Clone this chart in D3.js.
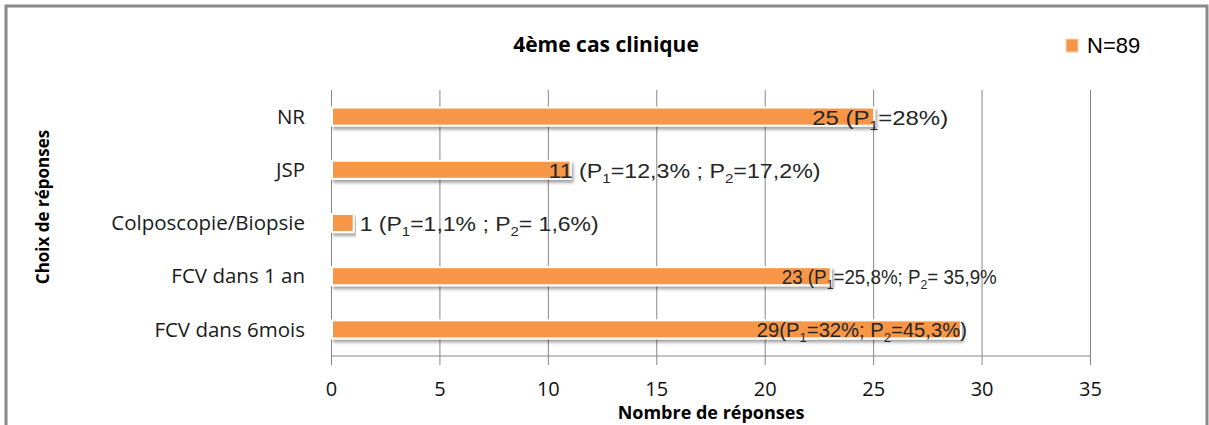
<!DOCTYPE html>
<html>
<head>
<meta charset="utf-8">
<script src="https://cdn.jsdelivr.net/npm/d3@7"></script>
<style>
  body { margin: 0; background: #fff; }
  svg { display: block; }
</style>
</head>
<body>
<div id="chart"></div>
<script>
// chart data
const categories = ["NR", "JSP", "Colposcopie/Biopsie", "FCV dans 1 an", "FCV dans 6mois"]
const counts = [25, 11, 1, 23, 29]
const labelTexts = [
  "25 (P1=28%)",
  "11 (P1=12,3% ; P2=17,2%)",
  "1 (P1=1,1% ; P2= 1,6%)",
  "23 (P1=25,8%; P2= 35,9%",
  "29(P1=32%; P2=45,3%)"
]
const xTicks = [0, 5, 10, 15, 20, 25, 30, 35]
const seriesName = "N=89"
const chartTitle = "4ème cas clinique"

// layout (label nudges, px from bar end, and drawn widths)
const labelShift = [-61, -21, 7, -48, -203]
const labelWidth = [136, 272, 239, 215, 210]

const width = 1209,
  height = 425,
  margin = { top: 90, bottom: 69, left: 331, right: 119 }

const orange = "#F79646"
const calFont = "'Open Sans', Lato, sans-serif"

const svg = d3.select("#chart")
  .append("svg")
  .attr("width", width)
  .attr("height", height)

const defs = svg.append("defs")
const shadow = defs.append("filter")
  .attr("id", "shadow")
  .attr("x", "-5%").attr("y", "-40%")
  .attr("width", "115%").attr("height", "200%")
shadow.append("feDropShadow")
  .attr("dx", 2).attr("dy", 3)
  .attr("stdDeviation", 1.5)
  .attr("flood-color", "#000")
  .attr("flood-opacity", 0.35)

// outer frame
svg.append("rect")
  .attr("x", 6).attr("y", 6)
  .attr("width", width - 8).attr("height", height + 10)
  .attr("fill", "none")
  .attr("stroke", "#8a8a8a")
  .attr("stroke-width", 3)

const xScale = d3.scaleLinear()
  .domain([0, 35])
  .range([margin.left, width - margin.right])

const yScale = d3.scaleBand()
  .domain(categories)
  .range([margin.top, height - margin.bottom])
  .paddingInner(0.66)
  .paddingOuter(0.33)

// gridlines + ticks
const xAxis = d3.axisBottom(xScale)
  .tickValues(xTicks)
  .tickPadding(25)

const xAxisGroup = svg.append("g")
  .attr("class", "xAxis")
  .attr("transform", `translate(0, ${height - margin.bottom})`)
  .call(xAxis)

xAxisGroup.select(".domain").remove()
xAxisGroup.selectAll(".tick line")
  .attr("stroke", "#868686")
  .attr("y2", -(height - margin.top - margin.bottom))
  .attr("y1", 9)
xAxisGroup.selectAll(".tick text")
  .attr("fill", "#111")
  .attr("font-family", calFont)
  .attr("font-size", 20)
  .attr("dy", "0.45em")

// bottom axis line
svg.append("line")
  .attr("x1", xScale(0)).attr("x2", xScale(35))
  .attr("y1", height - margin.bottom).attr("y2", height - margin.bottom)
  .attr("stroke", "#868686")

// category labels
svg.selectAll(".cat")
  .data(categories)
  .join("text")
  .attr("class", "cat")
  .attr("x", margin.left - 26)
  .attr("y", d => yScale(d) + yScale.bandwidth() / 2)
  .attr("dy", "0.35em")
  .attr("text-anchor", "end")
  .attr("font-family", calFont)
  .attr("font-size", 20.5)
  .attr("fill", "#1a1a1a")
  .text(d => d)

// bars
svg.selectAll(".bar")
  .data(counts)
  .join("rect")
  .attr("class", "bar")
  .attr("x", xScale(0) + 1)
  .attr("y", (d, i) => yScale(categories[i]))
  .attr("width", d => xScale(d) - xScale(0))
  .attr("height", yScale.bandwidth())
  .attr("fill", orange)
  .attr("stroke", "#fff")
  .attr("stroke-width", 2)
  .attr("filter", "url(#shadow)")

// value labels, with P1 / P2 subscripts
const labels = svg.selectAll(".val")
  .data(labelTexts)
  .join("text")
  .attr("class", "val")
  .attr("x", (d, i) => xScale(counts[i]) + labelShift[i])
  .attr("y", (d, i) => yScale(categories[i]) + yScale.bandwidth() / 2 + 8)
  .attr("font-family", "'Liberation Sans', Arial, sans-serif")
  .attr("font-size", 20)
  .attr("fill", "#262626")
  .attr("textLength", (d, i) => labelWidth[i])
  .attr("lengthAdjust", "spacingAndGlyphs")

labels.each(function(d) {
  const t = d3.select(this)
  const parts = d.split(/(P[12])/)
  let lowered = false
  parts.forEach(p => {
    if (/^P[12]$/.test(p)) {
      t.append("tspan").attr("dy", lowered ? -5 : 0).text("P")
      t.append("tspan").attr("dy", 5).attr("font-size", 13).text(p[1])
      lowered = true
    } else if (p.length) {
      t.append("tspan").attr("dy", lowered ? -5 : 0).text(p)
      lowered = false
    }
  })
})

// title
svg.append("text")
  .attr("x", 606)
  .attr("y", 52)
  .attr("text-anchor", "middle")
  .attr("font-family", calFont)
  .attr("font-weight", "bold")
  .attr("font-size", 21)
  .attr("fill", "#000")
  .text(chartTitle)

// legend
svg.append("rect")
  .attr("x", 1066).attr("y", 39)
  .attr("width", 12).attr("height", 13)
  .attr("fill", orange)
  .attr("stroke", "#fbd3b2")
  .attr("stroke-width", 1)
svg.append("text")
  .attr("x", 1087).attr("y", 53)
  .attr("font-family", "'Liberation Sans', Arial, sans-serif")
  .attr("font-size", 22)
  .attr("fill", "#000")
  .text(seriesName)

// axis titles
svg.append("text")
  .attr("x", 711).attr("y", 419)
  .attr("text-anchor", "middle")
  .attr("font-family", calFont)
  .attr("font-weight", "bold")
  .attr("font-size", 18)
  .attr("fill", "#000")
  .text("Nombre de réponses")

svg.append("text")
  .attr("transform", `translate(49, 207) rotate(-90)`)
  .attr("text-anchor", "middle")
  .attr("font-family", calFont)
  .attr("font-weight", "bold")
  .attr("font-size", 17)
  .attr("fill", "#000")
  .text("Choix de réponses")
</script>
</body>
</html>
